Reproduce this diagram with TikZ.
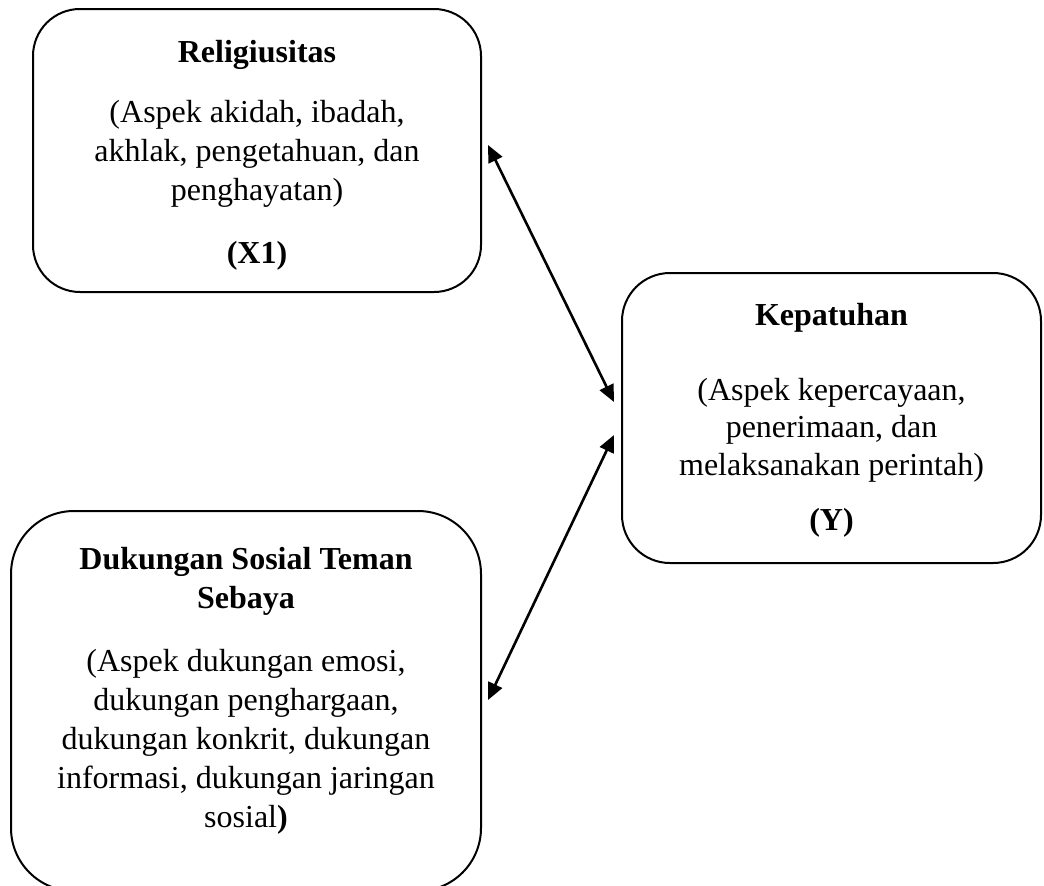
\documentclass[tikz,border=0pt]{standalone}
\usepackage{fontspec}
\setmainfont{Liberation Serif}
\usetikzlibrary{arrows.meta,calc}
\begin{document}
\begin{tikzpicture}[x=1pt,y=-1pt,
  box/.style={draw, line width=2pt, inner sep=0pt},
  txt/.style={inner sep=0pt, align=center, anchor=base, font=\fontsize{32}{39}\selectfont},
  conn/.style={line width=2.6pt, {Triangle[length=17pt,width=15pt]}-{Triangle[length=17pt,width=15pt]}}]
\useasboundingbox (0,0) rectangle (1044,886);
\node[box, rounded corners=47pt, minimum width=448pt, minimum height=283pt] (b1) at (257,150.5) {};
\node[box, rounded corners=48pt, minimum width=419pt, minimum height=290pt] (b2) at (831.5,418) {};
\node[box, rounded corners=63pt, minimum width=470pt, minimum height=380pt] (b3) at (246,701) {};
\node[txt] (t1) at (257,62) {\textbf{Religiusitas}};
\node[txt] (d1) at (257,200) {(Aspek akidah, ibadah,\\akhlak, pengetahuan, dan\\penghayatan)};
\node[txt] (l1) at (257,263) {\textbf{(X1)}};
\node[txt] (t2) at (831.5,325) {\textbf{Kepatuhan}};
\node[txt, font=\fontsize{32}{37.5}\selectfont] (d2) at (831.5,475) {(Aspek kepercayaan,\\penerimaan, dan\\melaksanakan perintah)};
\node[txt] (l2) at (831.5,530) {\textbf{(Y)}};
\node[txt] (t3) at (246,608) {\textbf{Dukungan Sosial Teman}\\\textbf{Sebaya}};
\node[txt] (d3) at (246,827) {(Aspek dukungan emosi,\\dukungan penghargaan,\\dukungan konkrit, dukungan\\informasi, dukungan jaringan\\sosial\textbf{)}};
\coordinate (p1) at ($(b1.east)+(6,-5.5)$);
\coordinate (q1) at ($(b2.west)+(-7,-16)$);
\coordinate (q2) at ($(b2.west)+(-7,17)$);
\coordinate (p3) at ($(b3.east)+(6,-1)$);
\draw[conn] (p1) -- (q1);
\draw[conn] (q2) -- (p3);
\end{tikzpicture}
\end{document}
